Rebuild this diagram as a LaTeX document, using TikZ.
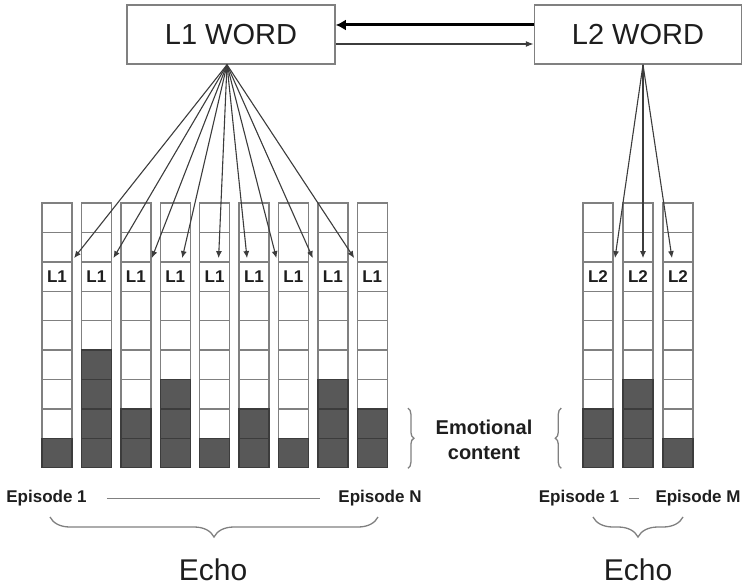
\documentclass[tikz,border=0pt]{standalone}
\usepackage{fontspec}
\setmainfont{Liberation Sans}
\usetikzlibrary{arrows.meta,decorations.pathreplacing}

\definecolor{cline}{RGB}{128,128,128}
\definecolor{cdark}{RGB}{88,88,88}
\definecolor{cdarkline}{RGB}{60,60,60}
\definecolor{carrow}{RGB}{60,60,60}
\definecolor{ctext}{RGB}{30,30,30}

\begin{document}
\begin{tikzpicture}[x=1pt,y=-1pt,
        word/.style={draw=cline,line width=1.5pt,minimum width=208pt,minimum height=59pt,inner sep=0pt,
          text=ctext,font=\fontsize{29}{29}\selectfont},
        cell/.style={line width=1.4pt,minimum width=30pt,minimum height=29.4pt,inner sep=0pt,
          text=ctext,font=\bfseries\fontsize{17}{17}\selectfont},
        ptr/.style={draw=carrow,line width=1.1pt,-{Latex[length=7pt,width=6pt]}},
        epi/.style={inner sep=0pt,text=ctext,font=\bfseries\fontsize{17}{17}\selectfont},
        echo/.style={inner sep=0pt,text=ctext,font=\fontsize{30}{30}\selectfont},
        brc/.style={draw=cline,line width=1.3pt,decorate,decoration={brace,amplitude=#1}}]
      \useasboundingbox (0,0) rectangle (750,586);
      % words
      \node[word] (l1word) at (231,34.5) {L1 WORD};
      \node[word,minimum width=207pt] (l2word) at (638,34.5) {L2 WORD};
      \draw[line width=3pt,-{Latex[length=10pt,width=11pt]}] ([yshift=9.5pt]l2word.west) -- ([yshift=9.5pt]l1word.east);
      \draw[draw=carrow,line width=1.3pt,-{Latex[length=8pt,width=6pt]}] ([yshift=-9.5pt]l1word.east) -- ([yshift=-9.5pt]l2word.west);
      % L1 episodes
      \foreach \n [count=\i] in {1,4,2,3,1,2,1,3,2}
        \foreach \r in {1,...,9} {
          \ifnum\r>\numexpr9-\n\relax \def\cfill{cdark}\def\cdraw{cdarkline}\else \def\cfill{white}\def\cdraw{cline}\fi
          \node[cell,draw=\cdraw,fill=\cfill] (a\i-\r) at ({57+39.4*(\i-1)},{217.7+29.4*(\r-1)}) {\ifnum\r=3 L1\fi};
        }
      % L2 episodes
      \foreach \n [count=\i] in {2,3,1}
        \foreach \r in {1,...,9} {
          \ifnum\r>\numexpr9-\n\relax \def\cfill{cdark}\def\cdraw{cdarkline}\else \def\cfill{white}\def\cdraw{cline}\fi
          \node[cell,draw=\cdraw,fill=\cfill] (b\i-\r) at ({598+40*(\i-1)},{217.7+29.4*(\r-1)}) {\ifnum\r=3 L2\fi};
        }
      \foreach \dx [count=\i] in {17,17,16,7,4,-7,-17,-20,-18}
        \draw[ptr] ([xshift=-4pt]l1word.south) -- ([xshift=\dx pt,yshift=3pt]a\i-3.north);
      \foreach \dx [count=\i] in {17,5,-6}
        \draw[ptr] ([xshift=5pt]l2word.south) -- ([xshift=\dx pt,yshift=3pt]b\i-3.north);
      % emotional content
      \draw[brc=6pt] ([xshift=20pt]a9-8.north east) -- ([xshift=20pt]a9-9.south east);
      \draw[brc=6pt] ([xshift=-21pt]b1-9.south west) -- ([xshift=-21pt]b1-8.north west);
      \node[inner sep=0pt,align=center,text=ctext,font=\bfseries\fontsize{20}{25}\selectfont] (emo) at (484,439.5) {Emotional\\content};
      % echoes
      \node[epi] (ep1) at (46.5,498) {Episode 1};
      \node[epi] (epn) at (380,498) {Episode N};
      \draw[draw=cline,line width=1pt,shorten <=20pt,shorten >=18pt] (ep1) -- (epn);
      \node[epi] (ep1b) at (579,498) {Episode 1};
      \node[epi] (epm) at (698,498) {Episode M};
      \draw[draw=cline,line width=1pt,shorten <=10pt,shorten >=16pt] (ep1b) -- (epm);
      \coordinate (e1l) at (50,517);
      \coordinate (e1r) at (378,517);
      \coordinate (e2l) at (593,517);
      \coordinate (e2r) at (683,517);
      \draw[brc=20pt] (e1r) -- (e1l);
      \draw[brc=20pt] (e2r) -- (e2l);
      \node[echo] (echo1) at (213,570) {Echo};
      \node[echo] (echo2) at (638,570) {Echo};
    \end{tikzpicture}
\end{document}
